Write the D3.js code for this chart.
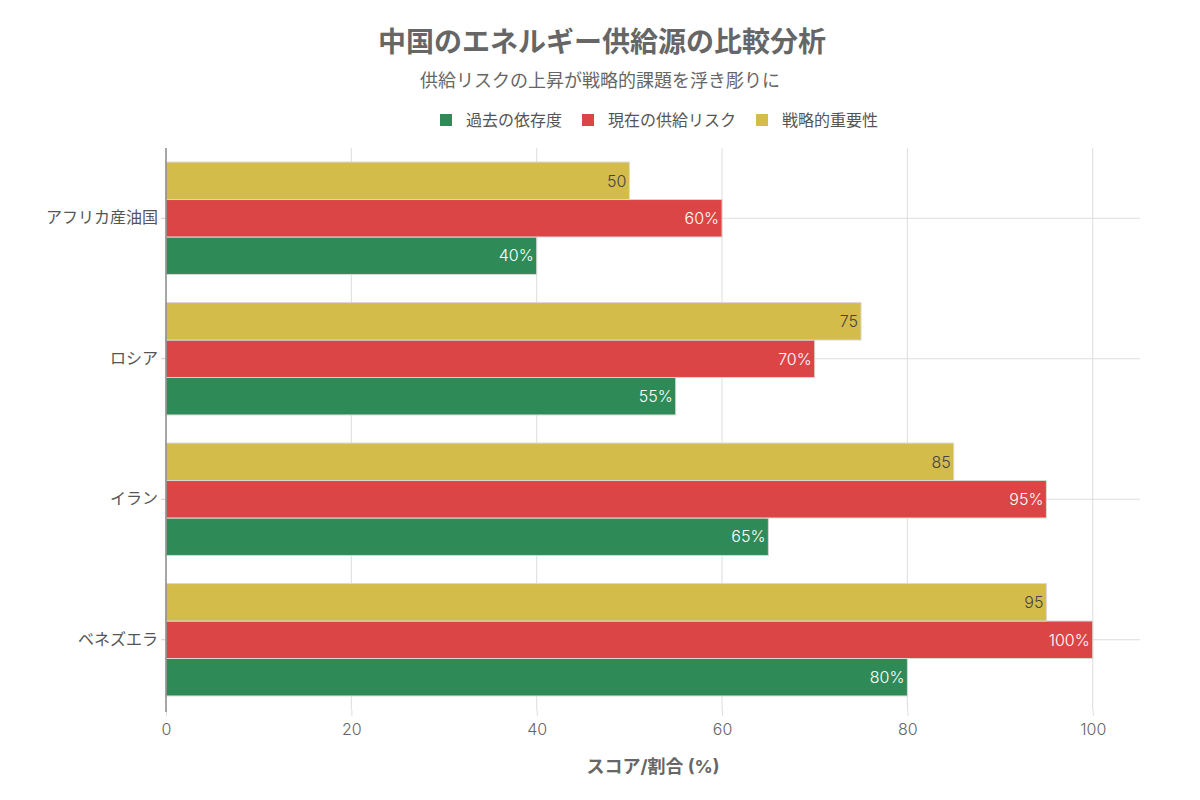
<!DOCTYPE html>
<html>
<head>
<meta charset="utf-8">
<script src="https://cdn.jsdelivr.net/npm/d3@7"></script>
<style>
  body { margin: 0; background: #fff; font-family: Inter, "Noto Sans CJK JP", sans-serif; }
</style>
</head>
<body>
<div id="chart"></div>
<script>
// data
var regions = ["アフリカ産油国", "ロシア", "イラン", "ベネズエラ"];
var seriesNames = ["過去の依存度", "現在の供給リスク", "戦略的重要性"];
var dependence = [40, 55, 65, 80];
var supplyRisk = [60, 70, 95, 100];
var importance = [50, 75, 85, 95];
var xTicks = [0, 20, 40, 60, 80, 100];

var colors = { "過去の依存度": "#2E8B57", "現在の供給リスク": "#DC4545", "戦略的重要性": "#D4BC4B" };
var labelColors = { "過去の依存度": "#ffffff", "現在の供給リスク": "#ffffff", "戦略的重要性": "#444444" };
var suffix = { "過去の依存度": "%", "現在の供給リスク": "%", "戦略的重要性": "" };

var rows = [];
regions.forEach(function (r, i) {
  rows.push({ region: r, series: "過去の依存度", value: dependence[i] });
  rows.push({ region: r, series: "現在の供給リスク", value: supplyRisk[i] });
  rows.push({ region: r, series: "戦略的重要性", value: importance[i] });
});

var W = 1200, H = 800;
var margin = { top: 148, right: 60, bottom: 90, left: 166 };
var width = W - margin.left - margin.right,
    height = H - margin.top - margin.bottom;

var svg = d3.select("#chart").append("svg")
  .attr("width", W).attr("height", H);

// title
svg.append("text").attr("x", 602).attr("y", 52)
  .attr("text-anchor", "middle").attr("font-size", 28).attr("font-weight", "bold")
  .attr("fill", "#666").text("中国のエネルギー供給源の比較分析");
svg.append("text").attr("x", 600).attr("y", 87)
  .attr("text-anchor", "middle").attr("font-size", 18)
  .attr("fill", "#666").text("供給リスクの上昇が戦略的課題を浮き彫りに");

// legend
var legend = svg.append("g").attr("transform", "translate(440,120)");
var lx = 0;
seriesNames.forEach(function (s) {
  var g = legend.append("g").attr("transform", "translate(" + lx + ",0)");
  g.append("rect").attr("x", 0).attr("y", -6).attr("width", 12).attr("height", 12).attr("fill", colors[s]);
  var t = g.append("text").attr("x", 26).attr("y", 6).attr("font-size", 16).attr("fill", "#555").text(s);
  lx += 26 + t.node().getComputedTextLength() + 20;
});

var plot = svg.append("g").attr("transform", "translate(" + margin.left + "," + margin.top + ")");

var x = d3.scaleLinear().domain([0, 105.1]).range([0, width]);
var y = d3.scaleBand().domain(regions).range([0, height]).paddingInner(0.2).paddingOuter(0.1);
var yInner = d3.scaleBand().domain(["戦略的重要性", "現在の供給リスク", "過去の依存度"]).range([0, y.bandwidth()]);

// grid
plot.selectAll(".vgrid").data(xTicks.slice(1)).enter().append("line")
  .attr("x1", function (d) { return x(d); }).attr("x2", function (d) { return x(d); })
  .attr("y1", 0).attr("y2", height).attr("stroke", "#ddd").attr("stroke-width", 1);
plot.selectAll(".hgrid").data(regions).enter().append("line")
  .attr("x1", 0).attr("x2", width)
  .attr("y1", function (d) { return y(d) + y.bandwidth() / 2; })
  .attr("y2", function (d) { return y(d) + y.bandwidth() / 2; })
  .attr("stroke", "#ddd").attr("stroke-width", 1);

// bars
var bars = plot.selectAll(".bar").data(rows).enter().append("g");
bars.append("rect")
  .attr("x", x(0))
  .attr("y", function (d) { return y(d.region) + yInner(d.series); })
  .attr("width", function (d) { return x(d.value) - x(0); })
  .attr("height", yInner.bandwidth())
  .attr("fill", function (d) { return colors[d.series]; })
  .attr("stroke", "#d8d8d8").attr("stroke-width", 1);
bars.append("text")
  .attr("x", function (d) { return x(d.value) - 3; })
  .attr("y", function (d) { return y(d.region) + yInner(d.series) + yInner.bandwidth() / 2; })
  .attr("dy", "0.36em").attr("text-anchor", "end").attr("font-size", 16).attr("font-weight", 300)
  .attr("fill", function (d) { return labelColors[d.series]; })
  .text(function (d) { return d.value + suffix[d.series]; });

// axes
var xAxis = plot.append("g").attr("transform", "translate(0," + height + ")")
  .call(d3.axisBottom(x).tickValues(xTicks).tickSize(6).tickPadding(8));
xAxis.select(".domain").remove();
xAxis.selectAll("line").attr("stroke", "#ddd");
xAxis.selectAll("text").attr("font-size", 16).attr("font-weight", 300).attr("fill", "#666").attr("font-family", "Inter, sans-serif");

var yAxis = plot.append("g")
  .call(d3.axisLeft(y).tickSize(5).tickPadding(3));
yAxis.select(".domain").remove();
yAxis.selectAll("line").attr("stroke", "#ccc");
yAxis.selectAll("text").attr("font-size", 16).attr("fill", "#555").attr("font-family", "'Noto Sans CJK JP', sans-serif");

plot.append("line").attr("x1", 0).attr("x2", 0).attr("y1", 0).attr("y2", height + 2)
  .attr("stroke", "#888").attr("stroke-width", 1.5);

svg.append("text").attr("x", margin.left + width / 2).attr("y", 773)
  .attr("text-anchor", "middle").attr("font-size", 18).attr("font-weight", "bold")
  .attr("fill", "#666").text("スコア/割合 (%)");
</script>
</body>
</html>
